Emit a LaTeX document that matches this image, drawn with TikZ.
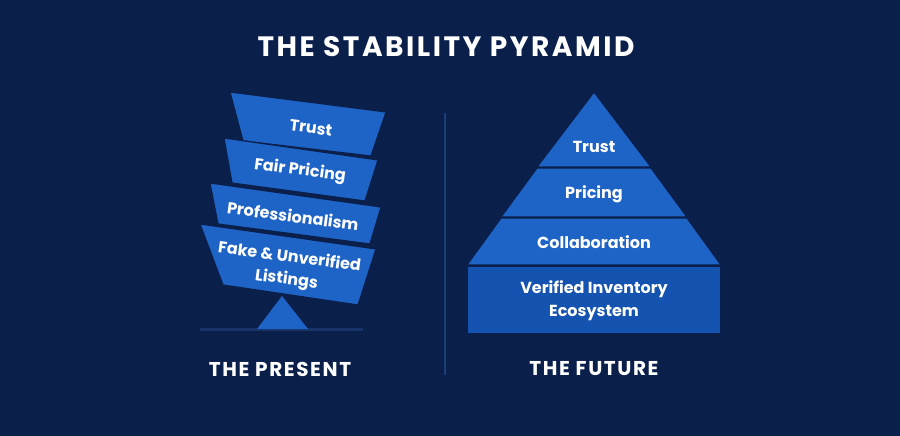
\documentclass[tikz,border=0pt]{standalone}
\usepackage{fontspec}
\setmainfont{Poppins}
\definecolor{bg}{HTML}{0A1F4A}
\definecolor{layer}{HTML}{1E63C6}
\definecolor{basec}{HTML}{1553B0}
\definecolor{divc}{HTML}{1C3E78}
\definecolor{groundc}{HTML}{173468}
\begin{document}
\begin{tikzpicture}[x=1pt,y=-1pt,
  lay/.style={fill=layer,draw=bg,line width=1.2pt,line join=round},
  lbl/.style={text=white,font=\bfseries\fontsize{16}{21}\selectfont,align=center,inner sep=0pt},
  tlbl/.style={lbl,rotate=-7.5},
  captext/.style={text=white,font=\bfseries\fontsize{20}{22}\selectfont\addfontfeature{LetterSpace=8},inner sep=0pt}]
\fill[bg] (0,0) rectangle (900,436);
\useasboundingbox (0,0) rectangle (900,436);
% title
\node[text=white,font=\bfseries\fontsize{28}{32}\selectfont\addfontfeature{LetterSpace=9},inner sep=0pt] (title) at (446,47) {THE STABILITY PYRAMID};
% divider
\coordinate (d1) at (445,113);
\coordinate (d2) at (445,375);
\draw[divc,line width=1.2pt] (d1) -- (d2);
% left tilted stack
\fill[groundc] (200,328) rectangle (363,331);
\fill[layer] (282,296) -- (257,329) -- (308,329) -- cycle;
\draw[lay] (230,92) -- (386,112) -- (371,156) -- (243,141) -- cycle;
\draw[lay] (224,138) -- (378,160) -- (365,201) -- (232,183) -- cycle;
\draw[lay] (210,183) -- (381,207) -- (370,244) -- (218,224) -- cycle;
\draw[lay] (200,224) -- (376,249) -- (358,305) -- (223,285) -- cycle;
\node[tlbl] (t1) at (311,128) {Trust};
\node[tlbl] (t2) at (300,171) {Fair Pricing};
\node[tlbl] (t3) at (293,216) {Professionalism};
\node[tlbl,font=\bfseries\fontsize{16}{22.5}\selectfont] (t4) at (288,269) {Fake \& Unverified\\Listings};
% right pyramid
\draw[lay] (594,92) -- (651,167) -- (537,167) -- cycle;
\draw[lay] (537,168) -- (651,168) -- (687,217) -- (501,217) -- cycle;
\draw[lay] (501,218) -- (687,218) -- (721,265) -- (467,265) -- cycle;
\draw[lay,fill=basec] (467,266) rectangle (721,334);
\node[lbl] (r1) at (594,147) {Trust};
\node[lbl] (r2) at (594,194) {Pricing};
\node[lbl] (r3) at (594,242) {Collaboration};
\node[lbl,font=\bfseries\fontsize{16}{23}\selectfont] (r4) at (594,301) {Verified Inventory\\Ecosystem};
% captions
\node[captext] (c1) at (280,369) {THE PRESENT};
\node[captext] (c2) at (594,369) {THE FUTURE};
\end{tikzpicture}
\end{document}
